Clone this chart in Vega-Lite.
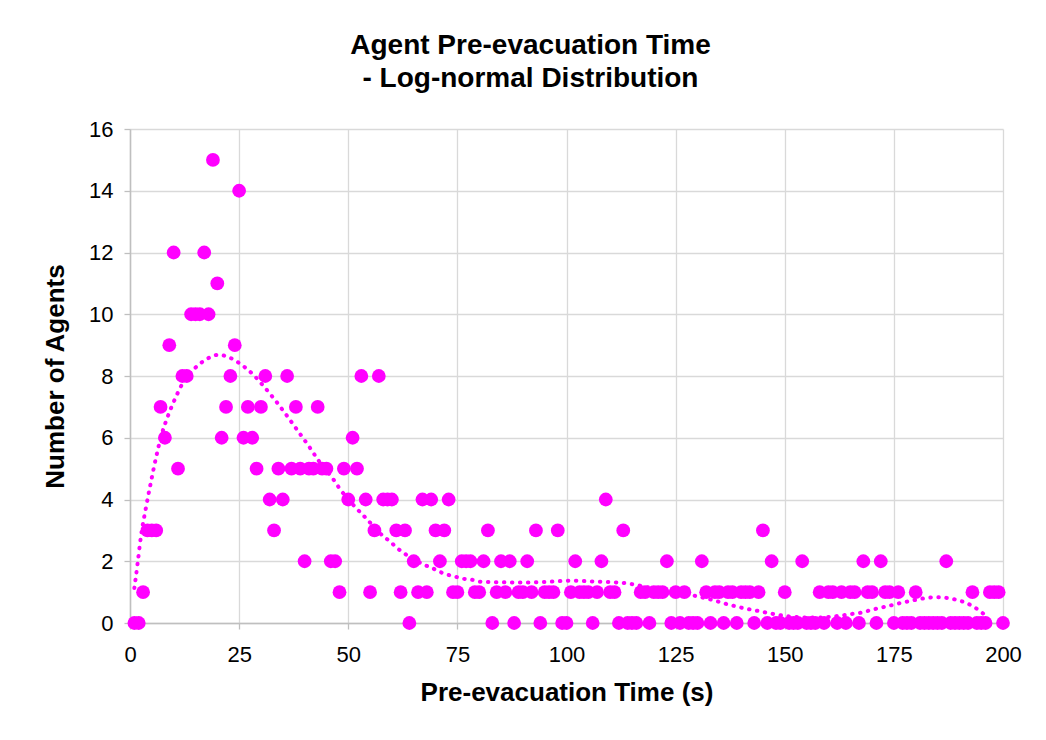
{
  "$schema": "https://vega.github.io/schema/vega-lite/v6.json",
  "width": 873,
  "height": 494,
  "autosize": {"type": "none"},
  "padding": {"left": 130, "top": 129, "right": 43, "bottom": 117},
  "background": "white",
  "config": {"view": {"stroke": null}, "font": "Liberation Sans"},
  "title": {
    "text": ["Agent Pre-evacuation Time", "- Log-normal Distribution"],
    "font": "Liberation Sans",
    "fontSize": 28,
    "fontWeight": "bold",
    "color": "#000000",
    "anchor": "middle",
    "dx": -36,
    "offset": 25,
    "lineHeight": 33
  },
  "datasets": {
    "agents": [
      {"t":1,"n":0},{"t":2,"n":0},{"t":3,"n":1},{"t":4,"n":3},{"t":5,"n":3},{"t":6,"n":3},{"t":7,"n":7},{"t":8,"n":6},{"t":9,"n":9},{"t":10,"n":12},
      {"t":11,"n":5},{"t":12,"n":8},{"t":13,"n":8},{"t":14,"n":10},{"t":15,"n":10},{"t":16,"n":10},{"t":17,"n":12},{"t":18,"n":10},{"t":19,"n":15},{"t":20,"n":11},
      {"t":21,"n":6},{"t":22,"n":7},{"t":23,"n":8},{"t":24,"n":9},{"t":25,"n":14},{"t":26,"n":6},{"t":27,"n":7},{"t":28,"n":6},{"t":29,"n":5},{"t":30,"n":7},
      {"t":31,"n":8},{"t":32,"n":4},{"t":33,"n":3},{"t":34,"n":5},{"t":35,"n":4},{"t":36,"n":8},{"t":37,"n":5},{"t":38,"n":7},{"t":39,"n":5},{"t":40,"n":2},
      {"t":41,"n":5},{"t":42,"n":5},{"t":43,"n":7},{"t":44,"n":5},{"t":45,"n":5},{"t":46,"n":2},{"t":47,"n":2},{"t":48,"n":1},{"t":49,"n":5},{"t":50,"n":4},
      {"t":51,"n":6},{"t":52,"n":5},{"t":53,"n":8},{"t":54,"n":4},{"t":55,"n":1},{"t":56,"n":3},{"t":57,"n":8},{"t":58,"n":4},{"t":59,"n":4},{"t":60,"n":4},
      {"t":61,"n":3},{"t":62,"n":1},{"t":63,"n":3},{"t":64,"n":0},{"t":65,"n":2},{"t":66,"n":1},{"t":67,"n":4},{"t":68,"n":1},{"t":69,"n":4},{"t":70,"n":3},
      {"t":71,"n":2},{"t":72,"n":3},{"t":73,"n":4},{"t":74,"n":1},{"t":75,"n":1},{"t":76,"n":2},{"t":77,"n":2},{"t":78,"n":2},{"t":79,"n":1},{"t":80,"n":1},
      {"t":81,"n":2},{"t":82,"n":3},{"t":83,"n":0},{"t":84,"n":1},{"t":85,"n":2},{"t":86,"n":1},{"t":87,"n":2},{"t":88,"n":0},{"t":89,"n":1},{"t":90,"n":1},
      {"t":91,"n":2},{"t":92,"n":1},{"t":93,"n":3},{"t":94,"n":0},{"t":95,"n":1},{"t":96,"n":1},{"t":97,"n":1},{"t":98,"n":3},{"t":99,"n":0},{"t":100,"n":0},
      {"t":101,"n":1},{"t":102,"n":2},{"t":103,"n":1},{"t":104,"n":1},{"t":105,"n":1},{"t":106,"n":0},{"t":107,"n":1},{"t":108,"n":2},{"t":109,"n":4},{"t":110,"n":1},
      {"t":111,"n":1},{"t":112,"n":0},{"t":113,"n":3},{"t":114,"n":0},{"t":115,"n":0},{"t":116,"n":0},{"t":117,"n":1},{"t":118,"n":1},{"t":119,"n":0},{"t":120,"n":1},
      {"t":121,"n":1},{"t":122,"n":1},{"t":123,"n":2},{"t":124,"n":0},{"t":125,"n":1},{"t":126,"n":0},{"t":127,"n":1},{"t":128,"n":0},{"t":129,"n":0},{"t":130,"n":0},
      {"t":131,"n":2},{"t":132,"n":1},{"t":133,"n":0},{"t":134,"n":1},{"t":135,"n":1},{"t":136,"n":0},{"t":137,"n":1},{"t":138,"n":1},{"t":139,"n":0},{"t":140,"n":1},
      {"t":141,"n":1},{"t":142,"n":1},{"t":143,"n":0},{"t":144,"n":1},{"t":145,"n":3},{"t":146,"n":0},{"t":147,"n":2},{"t":148,"n":0},{"t":149,"n":0},{"t":150,"n":1},
      {"t":151,"n":0},{"t":152,"n":0},{"t":153,"n":0},{"t":154,"n":2},{"t":155,"n":0},{"t":156,"n":0},{"t":157,"n":0},{"t":158,"n":1},{"t":159,"n":0},{"t":160,"n":1},
      {"t":161,"n":1},{"t":162,"n":0},{"t":163,"n":1},{"t":164,"n":0},{"t":165,"n":1},{"t":166,"n":1},{"t":167,"n":0},{"t":168,"n":2},{"t":169,"n":1},{"t":170,"n":1},
      {"t":171,"n":0},{"t":172,"n":2},{"t":173,"n":1},{"t":174,"n":1},{"t":175,"n":0},{"t":176,"n":1},{"t":177,"n":0},{"t":178,"n":0},{"t":179,"n":0},{"t":180,"n":1},
      {"t":181,"n":0},{"t":182,"n":0},{"t":183,"n":0},{"t":184,"n":0},{"t":185,"n":0},{"t":186,"n":0},{"t":187,"n":2},{"t":188,"n":0},{"t":189,"n":0},{"t":190,"n":0},
      {"t":191,"n":0},{"t":192,"n":0},{"t":193,"n":1},{"t":194,"n":0},{"t":195,"n":0},{"t":196,"n":0},{"t":197,"n":1},{"t":198,"n":1},{"t":199,"n":1},{"t":200,"n":0}
    ],
    "trend": [
      {"t":1.0,"v":1.13},{"t":1.75,"v":1.94},{"t":2.5,"v":2.8},{"t":3.7,"v":3.77},{"t":4.8,"v":4.57},{"t":6.0,"v":5.38},{"t":7.1,"v":6.03},{"t":8.6,"v":6.67},
      {"t":10.5,"v":7.32},{"t":12.2,"v":7.8},{"t":15.3,"v":8.31},{"t":18.4,"v":8.61},{"t":20.3,"v":8.69},{"t":22.2,"v":8.63},{"t":23.9,"v":8.52},{"t":25.6,"v":8.36},
      {"t":28.4,"v":8.02},{"t":30.8,"v":7.64},{"t":33.3,"v":7.21},{"t":35.6,"v":6.78},{"t":37.8,"v":6.35},{"t":41.1,"v":5.7},{"t":43.4,"v":5.22},{"t":46.7,"v":4.63},
      {"t":48.0,"v":4.36},{"t":51.5,"v":3.77},{"t":54.1,"v":3.39},{"t":58.1,"v":2.8},{"t":59.6,"v":2.64},{"t":61.0,"v":2.45},{"t":62.5,"v":2.29},{"t":65.0,"v":2.06},
      {"t":67.5,"v":1.88},{"t":69.2,"v":1.78},{"t":71.1,"v":1.65},{"t":72.9,"v":1.56},{"t":74.8,"v":1.49},{"t":76.5,"v":1.43},{"t":78.4,"v":1.4},{"t":80.1,"v":1.34},
      {"t":85.0,"v":1.32},{"t":89.7,"v":1.31},{"t":95.0,"v":1.33},{"t":101.2,"v":1.37},{"t":106.9,"v":1.34},{"t":110.7,"v":1.32},{"t":114.5,"v":1.27},{"t":116.4,"v":1.22},
      {"t":120.0,"v":1.12},{"t":125.0,"v":1.0},{"t":129.4,"v":0.88},{"t":133.3,"v":0.75},{"t":137.1,"v":0.6},{"t":140.6,"v":0.48},{"t":144.3,"v":0.38},{"t":148.2,"v":0.27},
      {"t":151.2,"v":0.21},{"t":155.0,"v":0.18},{"t":158.0,"v":0.18},{"t":161.0,"v":0.21},{"t":163.4,"v":0.25},{"t":165.2,"v":0.29},{"t":167.0,"v":0.32},{"t":169.0,"v":0.39},
      {"t":170.9,"v":0.46},{"t":172.8,"v":0.52},{"t":174.6,"v":0.58},{"t":176.3,"v":0.64},{"t":178.3,"v":0.7},{"t":180.3,"v":0.76},{"t":182.0,"v":0.8},{"t":184.0,"v":0.83},
      {"t":185.8,"v":0.83},{"t":187.6,"v":0.8},{"t":189.4,"v":0.75},{"t":191.2,"v":0.67},{"t":193.0,"v":0.55},{"t":194.6,"v":0.4},{"t":196.1,"v":0.21},{"t":196.9,"v":0.05}
    ]
  },
  "layer": [
    {
      "data": {"name": "agents"},
      "mark": {"type": "circle", "size": 190, "color": "#FF00FF", "opacity": 1},
      "encoding": {
        "x": {
          "field": "t", "type": "quantitative",
          "scale": {"domain": [0, 200], "nice": false, "zero": true},
          "axis": {
            "values": [0, 25, 50, 75, 100, 125, 150, 175, 200],
            "title": "Pre-evacuation Time (s)",
            "titleFont": "Liberation Sans", "titleFontSize": 26, "titleFontWeight": "bold", "titleColor": "#000000", "titlePadding": 14,
            "labelFont": "Liberation Sans", "labelFontSize": 22, "labelColor": "#000000", "labelPadding": 15, "labelFlush": false,
            "grid": true, "gridColor": "#d9d9d9", "gridWidth": 1.3,
            "domainColor": "#bfbfbf", "domainWidth": 1.5,
            "ticks": true, "tickColor": "#bfbfbf", "tickSize": 6, "tickWidth": 1.3
          }
        },
        "y": {
          "field": "n", "type": "quantitative",
          "scale": {"domain": [0, 16], "nice": false},
          "axis": {
            "values": [0, 2, 4, 6, 8, 10, 12, 14, 16],
            "title": "Number of Agents",
            "titleFont": "Liberation Sans", "titleFontSize": 26, "titleFontWeight": "bold", "titleColor": "#000000", "titlePadding": 20,
            "labelFont": "Liberation Sans", "labelFontSize": 22, "labelColor": "#000000", "labelPadding": 11, "labelFlush": false,
            "grid": true, "gridColor": "#d9d9d9", "gridWidth": 1.3,
            "domainColor": "#bfbfbf", "domainWidth": 1.5,
            "ticks": true, "tickColor": "#bfbfbf", "tickSize": 6, "tickWidth": 1.3
          }
        }
      }
    },
    {
      "data": {"name": "trend"},
      "mark": {"type": "line", "color": "#FF00FF", "strokeWidth": 4, "strokeDash": [0.5, 7.5], "strokeCap": "round", "interpolate": "monotone"},
      "encoding": {
        "x": {"field": "t", "type": "quantitative"},
        "y": {"field": "v", "type": "quantitative"}
      }
    }
  ]
}
